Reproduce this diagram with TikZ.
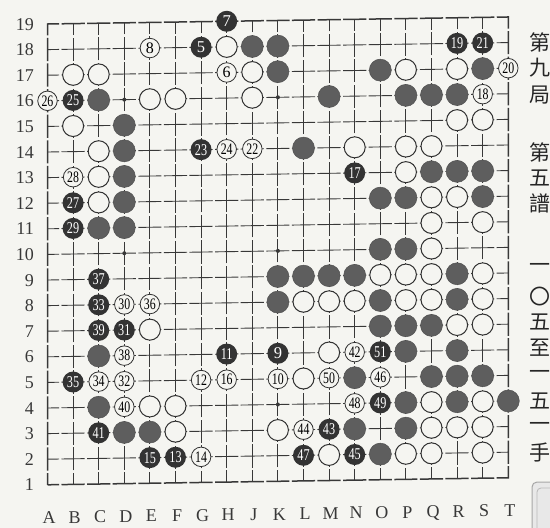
\documentclass[tikz,border=0pt]{standalone}
\usepackage{fontspec}
\usepackage{graphicx}
\setmainfont{Liberation Serif}
\newfontfamily\cjkfont{Noto Sans CJK TC}
\definecolor{paper}{HTML}{F5F5F1}
\definecolor{gridc}{HTML}{383838}
\definecolor{bfill}{HTML}{5E5E5E}
\definecolor{bnfill}{HTML}{333333}
\definecolor{wline}{HTML}{303030}
\newcommand\dig[1]{\ifnum#1>9 \scalebox{0.74}[1]{#1}\else #1\fi}
\newcommand\bS[1]{\node[bst] (s#1) at (#1) {};}
\newcommand\wS[1]{\node[wst] (s#1) at (#1) {};}
\newcommand\bN[2]{\node[bnum] (s#1) at (#1) {\dig{#2}};}
\newcommand\wN[2]{\node[wnum] (s#1) at (#1) {\dig{#2}};}
\tikzset{
  gridline/.style={draw=gridc, line width=0.9pt, dash pattern=on 23.2pt off 2.4pt, dash phase=11.6pt},
  edgeline/.style={gridline, line width=1.5pt},
  bst/.style={circle, inner sep=0pt, minimum size=22pt, fill=bfill, draw=bfill!85!black, line width=0.5pt},
  bnum/.style={circle, inner sep=0pt, minimum size=21pt, fill=bnfill, text=white, font=\fontsize{16.5}{16.5}\selectfont},
  wst/.style={circle, inner sep=0pt, minimum size=21pt, fill=paper, draw=wline, line width=1pt},
  wnum/.style={circle, inner sep=0pt, minimum size=19.5pt, fill=paper, draw=wline, line width=0.8pt, text=black, font=\fontsize{16}{16}\selectfont},
  rowlab/.style={anchor=east, inner sep=0pt, text height=12pt, text depth=0pt, font=\fontsize{18}{18}\selectfont, text=gridc},
  collab/.style={inner sep=0pt, text height=12pt, text depth=0pt, font=\fontsize{18}{18}\selectfont, text=gridc},
  cjk/.style={inner sep=0pt, font=\cjkfont\fontsize{21}{21}\selectfont, text=black!85},
  hoshi/.style={circle, fill=gridc, inner sep=0pt, minimum size=4pt},
}
\begin{document}
\begin{tikzpicture}[x=1pt,y=-1pt]
\useasboundingbox (0,0) rectangle (550,528);
\fill[paper] (0,0) rectangle (550,528);
% stamp-like fragment in the lower right corner
\begin{scope}
  \clip (0,0) rectangle (550,528);
  \fill[black!9, rounded corners=5pt] (532,482) rectangle (575,545);
  \draw[black!35, line width=1pt, rounded corners=5pt] (532,545) -- (532,482) -- (575,482);
  \draw[black!28, line width=0.8pt, rounded corners=4pt] (537,545) -- (537,488) -- (575,488);
\end{scope}
% row labels
\foreach \r in {1,...,19}
  \node[rowlab] (rl\r) at (34,{24+25.6*(19-\r)}) {\r};
% right-hand caption
\foreach \ch/\yy [count=\k] in {第/42,九/68,局/95,第/152,五/178,譜/203,一/268,〇/297,五/322,至/348,一/375,五/401,一/427,手/452}
  \node[cjk] (cj\k) at (540,\yy) {\ch};
% the board
\begin{scope}[shift={(47.5,484.8)}, x={(25.6pt,0.39pt)}, y={(0pt,25.6pt)}]
  \foreach \col [count=\ci from 0] in {A,B,C,D,E,F,G,H,J,K,L,M,N,O,P,Q,R,S,T}{
    \foreach \r in {1,...,19}{ \coordinate (\col\r) at (\ci,\r-1); }
    \node[collab] (cl\col) at (\ci+0.06,-1.28) {\col};
  }
  \foreach \j in {1,...,17}{
    \draw[gridline] (0,\j) -- (18,\j);
    \draw[gridline] (\j,0) -- (\j,18);
  }
  \draw[edgeline] (0,0) -- (18,0) -- (18,18) -- (0,18) -- cycle;
  \foreach \h in {D4,D10,D16,K4,K10,K16,Q4,Q10,Q16} \node[hoshi] (h\h) at (\h) {};
  % row 19
  \bN{H19}{7}
  % row 18
  \wN{E18}{8} \bN{G18}{5} \wS{H18} \bS{J18} \bS{K18} \bN{R18}{19} \bN{S18}{21}
  % row 17
  \wS{B17} \wS{C17} \wN{H17}{6} \wS{J17} \bS{K17} \bS{O17} \wS{P17} \wS{R17} \bS{S17} \wN{T17}{20}
  % row 16
  \wN{A16}{26} \bN{B16}{25} \bS{C16} \wS{E16} \wS{F16} \wS{J16} \bS{M16} \bS{P16} \bS{Q16} \bS{R16} \wN{S16}{18}
  % row 15
  \wS{B15} \bS{D15} \wS{R15} \wS{S15}
  % row 14
  \wS{C14} \bS{D14} \bN{G14}{23} \wN{H14}{24} \wN{J14}{22} \bS{L14} \wS{N14} \wS{P14} \wS{Q14}
  % row 13
  \wN{B13}{28} \wS{C13} \bS{D13} \bN{N13}{17} \wS{P13} \bS{Q13} \bS{R13} \bS{S13}
  % row 12
  \bN{B12}{27} \wS{C12} \bS{D12} \bS{O12} \bS{P12} \wS{Q12} \wS{R12} \bS{S12}
  % row 11
  \bN{B11}{29} \bS{C11} \bS{D11} \wS{Q11} \wS{S11}
  % row 10
  \bS{O10} \bS{P10} \wS{Q10}
  % row 9
  \bN{C9}{37} \bS{K9} \bS{L9} \bS{M9} \bS{N9} \wS{O9} \wS{P9} \wS{Q9} \bS{R9} \wS{S9}
  % row 8
  \bN{C8}{33} \wN{D8}{30} \wN{E8}{36} \bS{K8} \wS{L8} \wS{M8} \wS{N8} \bS{O8} \wS{P8} \wS{Q8} \bS{R8} \wS{S8}
  % row 7
  \bN{C7}{39} \bN{D7}{31} \wS{E7} \bS{O7} \bS{P7} \bS{Q7} \wS{R7} \wS{S7}
  % row 6
  \bS{C6} \wN{D6}{38} \bN{H6}{11} \bN{K6}{9} \wS{M6} \wN{N6}{42} \bN{O6}{51} \bS{P6} \bS{R6}
  % row 5
  \bN{B5}{35} \wN{C5}{34} \wN{D5}{32} \wN{G5}{12} \wN{H5}{16} \wN{K5}{10} \wS{L5} \wN{M5}{50} \bS{N5} \wN{O5}{46} \bS{Q5} \bS{R5} \bS{S5}
  % row 4
  \bS{C4} \wN{D4}{40} \wS{E4} \wS{F4} \wN{N4}{48} \bN{O4}{49} \bS{P4} \wS{Q4} \bS{R4} \wS{S4} \bS{T4}
  % row 3
  \bN{C3}{41} \bS{D3} \bS{E3} \wS{F3} \wS{K3} \wN{L3}{44} \bN{M3}{43} \bS{N3} \bS{P3} \wS{Q3} \wS{R3} \wS{S3}
  % row 2
  \bN{E2}{15} \bN{F2}{13} \wN{G2}{14} \bN{L2}{47} \wS{M2} \bN{N2}{45} \bS{O2} \wS{P2} \wS{Q2} \wS{S2}
\end{scope}
\end{tikzpicture}
\end{document}
